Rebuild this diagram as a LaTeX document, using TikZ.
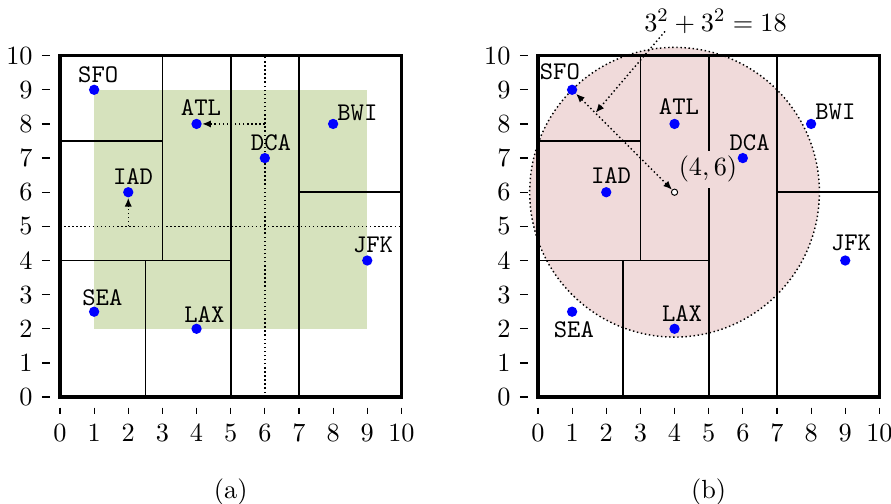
\documentclass[tikz,border=0pt]{standalone}
\usepackage{fontspec}
\usetikzlibrary{arrows.meta,calc}
\definecolor{greenfill}{RGB}{214,226,189}
\definecolor{pinkfill}{RGB}{240,218,218}
\tikzset{
  dotline/.style={line width=0.6pt, dash pattern=on 0.6pt off 1.1pt},
  part/.style={line width=0.7pt},
  frame/.style={line width=1.4pt},
  tick/.style={line width=0.5pt},
  pt/.style={circle, fill=blue, inner sep=0pt, minimum size=4.3pt},
  lab/.style={anchor=base, inner sep=0pt, font=\fontsize{10.6}{12}\selectfont\ttfamily},
  tiplatex/.tip={Latex[length=3.6pt,width=3pt]},
}
\newcommand{\axesframe}{%
  \foreach \i in {0,...,10} {
    \draw[tick] (-0.53,\i) -- (-0.29,\i);
    \node[anchor=east, inner sep=0pt] at (-0.79,\i) {\i};
    \draw[tick] (\i,-0.31) -- (\i,-0.5);
    \node[anchor=base, inner sep=0pt] at (\i,-1.29) {\i};
  }
  \draw[part] (5,0) -- (5,10);
  \draw[part] (3,4) -- (3,10);
  \draw[part] (0,4) -- (5,4);
  \draw[part] (0,7.5) -- (3,7.5);
  \draw[part] (2.5,0) -- (2.5,4);
  \draw[part] (7,0) -- (7,10);
  \draw[part] (7,6) -- (10,6);
  \draw[frame] (0,0) rectangle (10,10);
}
\begin{document}
\begin{tikzpicture}[x=0.5cm,y=0.5cm, every node/.style={font=\fontsize{10.95}{13.6}\selectfont}]
\useasboundingbox (-1.757,-3.13) rectangle (24.34,11.63);
% ---------- panel (a)
\begin{scope}
  \fill[greenfill] (1,2) rectangle (9,9);
  \draw[dotline] (6,0) -- (6,10);
  \draw[dotline] (0,5) -- (10,5);
  \axesframe
  \node[pt] (sfoA) at (1,9) {};
  \node[pt] (atlA) at (4,8) {};
  \node[pt] (bwiA) at (8,8) {};
  \node[pt] (dcaA) at (6,7) {};
  \node[pt] (iadA) at (2,6) {};
  \node[pt] (jfkA) at (9,4) {};
  \node[pt] (seaA) at (1,2.5) {};
  \node[pt] (laxA) at (4,2) {};
  \node[lab] (sfoAl) at (1.12,9.21) {SFO};
  \node[lab] (atlAl) at (4.13,8.24) {ATL};
  \node[lab] (bwiAl) at (8.71,8.10) {BWI};
  \node[lab] (dcaAl) at (6.18,7.22) {DCA};
  \node[lab] (iadAl) at (2.14,6.22) {IAD};
  \node[lab] (jfkAl) at (9.17,4.24) {JFK};
  \node[lab] (seaAl) at (1.24,2.68) {SEA};
  \node[lab] (laxAl) at (4.23,2.19) {LAX};
  \coordinate (fromA1) at (6,8);
  \coordinate (fromA2) at (2,5);
  \draw[dotline, -tiplatex] (fromA1) -- (atlA);
  \draw[dotline, -tiplatex] (fromA2) -- (iadA);
  \node[anchor=base, inner sep=0pt] (capA) at (5,-2.96) {(a)};
\end{scope}
% ---------- panel (b)
\begin{scope}[shift={(14,0)}]
  \fill[pinkfill] (4,6) circle (4.2426);
  \draw[dotline] (4,6) circle (4.2426);
  \axesframe
  \node[anchor=south west, fill=pinkfill, inner xsep=1pt, inner ysep=2.3pt] (clab) at (4.04,6.11) {$(4,6)$};
  \node[pt] (sfoB) at (1,9) {};
  \node[pt] (atlB) at (4,8) {};
  \node[pt] (bwiB) at (8,8) {};
  \node[pt] (dcaB) at (6,7) {};
  \node[pt] (iadB) at (2,6) {};
  \node[pt] (jfkB) at (9,4) {};
  \node[pt] (seaB) at (1,2.5) {};
  \node[pt] (laxB) at (4,2) {};
  \node[lab] (sfoBl) at (0.64,9.30) {SFO};
  \node[lab] (atlBl) at (4.13,8.28) {ATL};
  \node[lab] (bwiBl) at (8.71,8.13) {BWI};
  \node[lab] (dcaBl) at (6.20,7.22) {DCA};
  \node[lab] (iadBl) at (2.14,6.25) {IAD};
  \node[lab] (jfkBl) at (9.17,4.28) {JFK};
  \node[lab] (seaBl) at (1.05,1.75) {SEA};
  \node[lab] (laxBl) at (4.22,2.20) {LAX};
  \node[circle, draw, fill=white, inner sep=0pt, minimum size=2.6pt, line width=0.4pt] (cB) at (4,6) {};
  \draw[dotline, tiplatex-tiplatex] (sfoB) -- (cB);
  \node[anchor=base west, inner sep=0pt] (form) at (3.10,10.71) {$3^2+3^2=18$};
  \coordinate (fstart) at (3.72,10.71);
  \coordinate (fend) at (1.69,8.33);
  \draw[dotline, -tiplatex] (fstart) -- (fend);
  \node[anchor=base, inner sep=0pt] (capB) at (5,-2.96) {(b)};
\end{scope}
\end{tikzpicture}
\end{document}
